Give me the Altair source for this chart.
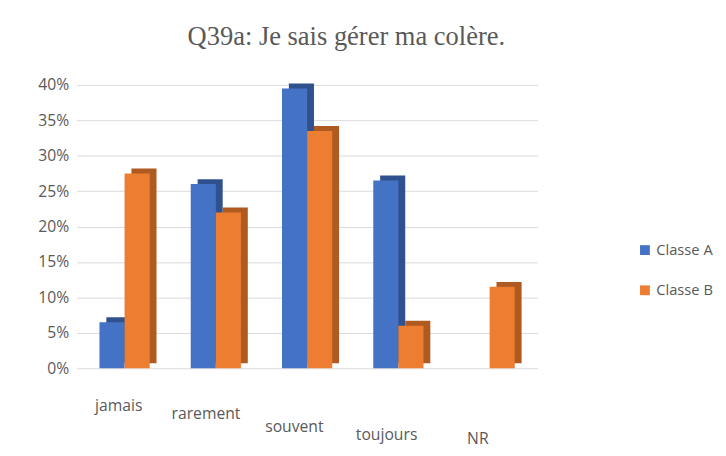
import altair as alt
import pandas as pd

categories = ["jamais", "rarement", "souvent", "toujours", "NR"]
classe_a = [6.5, 26.0, 39.5, 26.5, 0.0]
classe_b = [27.5, 22.0, 33.5, 6.0, 11.5]
series = ["Classe A", "Classe B"]
front_colors = ["#4472C4", "#ED7D31"]
side_colors = ["#2F528F", "#AE5A21"]
y_ticks = [0, 5, 10, 15, 20, 25, 30, 35, 40]

# category labels sit lower and lower along the slanted floor of the 3-D original
label_drop = [30, 38, 51, 60, 64]
label_shift = [-6, -10, -13, -12, -12]

rows = []
for c, a, b in zip(categories, classe_a, classe_b):
    rows.append({"cat": c, "classe": "Classe A", "val": a})
    rows.append({"cat": c, "classe": "Classe B", "val": b})
df = pd.DataFrame(rows)

W, H = 470, 289
P_IN, P_OUT = 0.45, 0.25
step = W / (len(categories) - P_IN + 2 * P_OUT)
band = step * (1 - P_IN)
DX = 7  # depth of the pseudo-3D side face


def per_label(values):
    return {
        "condition": [{"test": f"datum.value === '{c}'", "value": v}
                      for c, v in zip(categories[1:], values[1:])],
        "value": values[0],
    }


xenc = alt.X("cat:N", sort=categories, title=None,
             scale=alt.Scale(paddingInner=P_IN, paddingOuter=P_OUT),
             axis=alt.Axis(labelAngle=0, ticks=False, domain=False,
                           labelPadding=per_label(label_drop),
                           labelOffset=per_label(label_shift),
                           labelFontSize=16, labelColor="#595959", labelFont="Open Sans",
                           grid=False))
yscale = alt.Scale(domain=[0, 40], nice=False)
yaxis = alt.Axis(values=y_ticks, labelExpr="datum.value + '%'", ticks=False, domain=False,
                 labelFontSize=16, labelColor="#595959", labelFont="Open Sans",
                 gridColor="#D9D9D9", labelPadding=8)

base = alt.Chart(df)

side = base.mark_bar(yOffset=-5, y2Offset=-5, clip=False).encode(
    x=xenc,
    xOffset=alt.XOffset("classe:N", sort=series, scale=alt.Scale(range=[DX, band + DX])),
    y=alt.Y("val:Q", scale=yscale, axis=yaxis, title=None),
    color=alt.Color("classe:N", scale=alt.Scale(domain=series, range=side_colors), legend=None),
)

front = base.mark_bar(clip=False).encode(
    x=xenc,
    xOffset=alt.XOffset("classe:N", sort=series, scale=alt.Scale(range=[0, band])),
    y=alt.Y("val:Q", scale=yscale, axis=yaxis, title=None),
    fill=alt.Fill("classe:N", scale=alt.Scale(domain=series, range=front_colors),
                  legend=alt.Legend(title=None, orient="none", legendX=572, legendY=161,
                                    symbolType="square", symbolSize=100,
                                    labelFontSize=15, labelColor="#595959",
                                    labelFont="Open Sans", rowPadding=25,
                                    symbolStrokeWidth=0)),
)

chart = alt.layer(side, front).resolve_scale(color="independent", xOffset="independent").properties(
    width=W, height=H,
    title=alt.Title("Q39a: Je sais gérer ma colère.", font="Liberation Serif",
                    fontSize=27, fontWeight="normal", color="#595959", offset=27, dx=40),
    padding={"left": 30, "top": 11, "right": 5, "bottom": 0},
).configure_view(stroke=None).configure_axis(gridColor="#D9D9D9")

chart.save("out.html", embed_options={"renderer": "svg", "actions": False})
